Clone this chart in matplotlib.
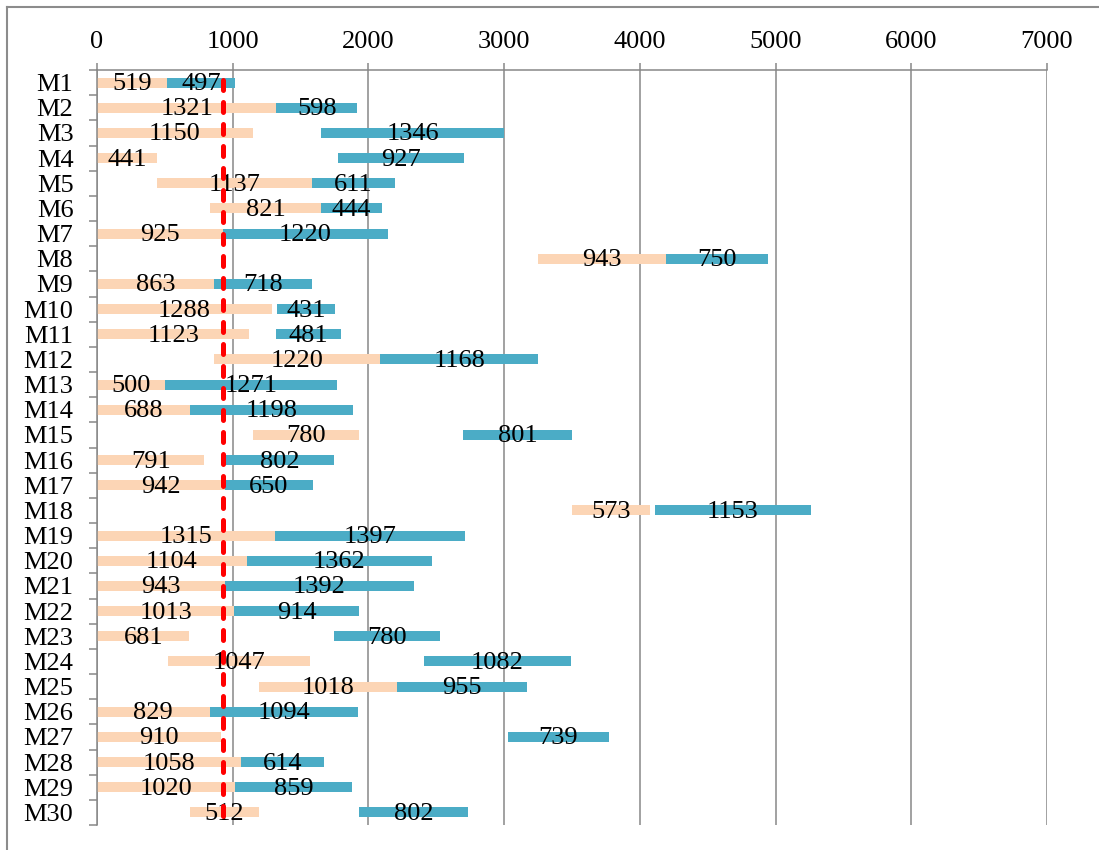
import matplotlib.pyplot as plt
from matplotlib.lines import Line2D

# Values
months = ["M%d" % i for i in range(1, 31)]

first_start = [0, 0, 0, 0, 445, 832, 0, 3252, 0, 0,
               0, 865, 0, 0, 1151, 0, 0, 3500, 0, 0,
               0, 0, 0, 521, 1194, 0, 0, 0, 0, 683]
first_len = [519, 1321, 1150, 441, 1137, 821, 925, 943, 863, 1288,
             1123, 1220, 500, 688, 780, 791, 942, 573, 1315, 1104,
             943, 1013, 681, 1047, 1018, 829, 910, 1058, 1020, 512]

second_start = [519, 1321, 1654, 1775, 1582, 1653, 925, 4195, 863, 1323,
                1316, 2085, 500, 688, 2699, 944, 942, 4109, 1315, 1104,
                943, 1013, 1746, 2408, 2212, 829, 3030, 1058, 1020, 1932]
second_len = [497, 598, 1346, 927, 611, 444, 1220, 750, 718, 431,
              481, 1168, 1271, 1198, 801, 802, 650, 1153, 1397, 1362,
              1392, 914, 780, 1082, 955, 1094, 739, 614, 859, 802]

ref_value = 928
x_ticks = [0, 1000, 2000, 3000, 4000, 5000, 6000, 7000]

peach = "#FCD5B5"
blue = "#4BACC6"
gray = "#878787"

plt.rcParams["font.family"] = ["Liberation Serif", "DejaVu Serif"]
plt.rcParams["font.size"] = 19

fig = plt.figure(figsize=(10.99, 8.5), dpi=100)
ax = fig.add_axes([97 / 1099, 1 - 825 / 850, 950 / 1099, 755 / 850])

rows = list(range(len(months)))
ax.barh(rows, first_len, left=first_start, height=0.4, color=peach, zorder=2)
ax.barh(rows, second_len, left=second_start, height=0.4, color=blue, zorder=2)

# value labels centred on each segment
for i in rows:
    ax.text(first_start[i] + first_len[i] / 2, i + 0.06, str(first_len[i]),
            ha="center", va="center", color="black", zorder=3)
    ax.text(second_start[i] + second_len[i] / 2, i + 0.06, str(second_len[i]),
            ha="center", va="center", color="black", zorder=3)

# red dashed reference line
ax.plot([ref_value, ref_value], [-0.1, len(months) - 0.5], color="red", lw=3.6,
        linestyle=(0, (2.0, 2.4)), dash_capstyle="round", zorder=4, clip_on=False)

ax.set_xlim(0, 7000)
ax.set_ylim(len(months) - 0.5, -0.5)

ax.xaxis.tick_top()
ax.set_xticks(x_ticks)
ax.set_xticklabels([str(t) for t in x_ticks])
ax.tick_params(axis="x", length=5, width=1.1, color=gray, pad=7)
ax.grid(axis="x", color=gray, lw=1.1, zorder=1)

ax.set_yticks(rows)
ax.set_yticklabels(months)
ax.set_yticks([r + 0.5 for r in range(-1, len(months))], minor=True)
ax.tick_params(axis="y", which="major", length=0, pad=17)
ax.tick_params(axis="y", which="minor", length=6, width=1.1, color=gray)

for side in ["right", "bottom"]:
    ax.spines[side].set_visible(False)
for side in ["top", "left"]:
    ax.spines[side].set_color(gray)
    ax.spines[side].set_linewidth(1.1)

# outer chart border (only top and left edges are in view)
fig.add_artist(Line2D([7 / 1099, 1], [1 - 7 / 850, 1 - 7 / 850], color="#8C8C8C", lw=1.5))
fig.add_artist(Line2D([7 / 1099, 7 / 1099], [0, 1 - 7 / 850], color="#8C8C8C", lw=1.5))

fig.savefig("out.png", dpi=100)
